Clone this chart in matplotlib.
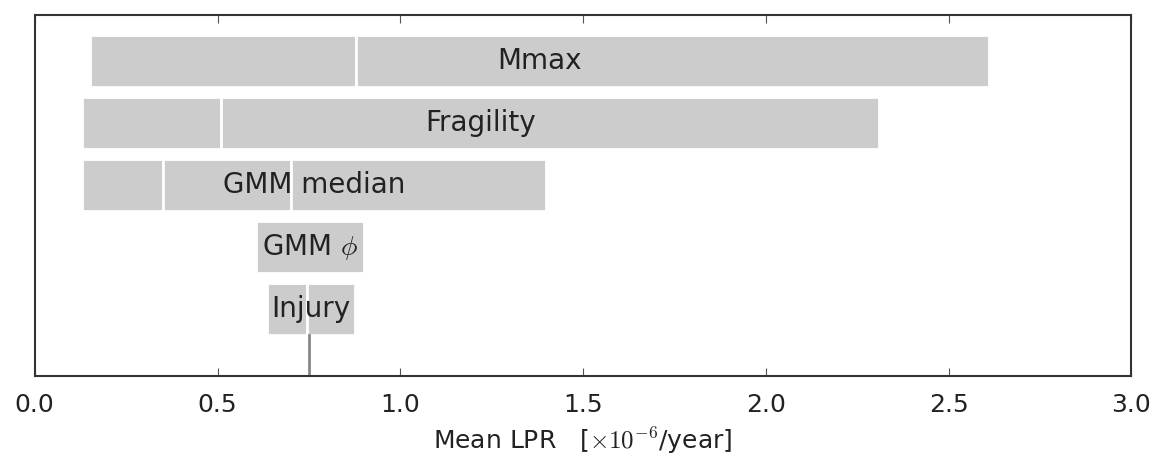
import matplotlib.pyplot as plt

plt.rc('mathtext', fontset='cm')

# tornado bars, each row split into segments at the branch values
labels = ["Mmax", "Fragility", "GMM median", r"GMM $\phi$", "Injury"]
edges = [
    [0.15, 0.88, 2.61],
    [0.13, 0.51, 2.31],
    [0.13, 0.35, 0.70, 1.40],
    [0.605, 0.90],
    [0.635, 0.745, 0.876],
]
rows = [5, 4, 3, 2, 1]
mean_lpr = 0.75

fig = plt.figure(figsize=(11.58, 4.59), dpi=100)
ax = fig.add_axes([0.030, 0.181, 0.947, 0.786])

h = 0.84
for y, e, lab in zip(rows, edges, labels):
    for a, b in zip(e[:-1], e[1:]):
        ax.barh(y, b - a, left=a, height=h, color='#cccccc',
                edgecolor='white', linewidth=2)
    ax.text((e[0] + e[-1]) / 2, y, lab, ha='center', va='center',
            fontsize=20, color='#222222')

ax.plot([mean_lpr, mean_lpr], [-0.08, 1 - h / 2], color='#888888', lw=2)

ax.set_xlim(0, 3.0)
ax.set_ylim(-0.08, 5.74)
ax.set_yticks([])
ax.set_xticks([0, 0.5, 1.0, 1.5, 2.0, 2.5, 3.0])
ax.set_xticklabels(["0.0", "0.5", "1.0", "1.5", "2.0", "2.5", "3.0"])
ax.tick_params(axis='x', direction='in', top=True, labelsize=18, length=6,
               color='#555555', labelcolor='#222222', pad=12)
for s in ax.spines.values():
    s.set_linewidth(1.5)
    s.set_color('#333333')
ax.set_xlabel(r"Mean LPR   [$\times10^{-6}$/year]", fontsize=18, labelpad=6,
              color='#222222')

fig.savefig("out.png", dpi=100)
